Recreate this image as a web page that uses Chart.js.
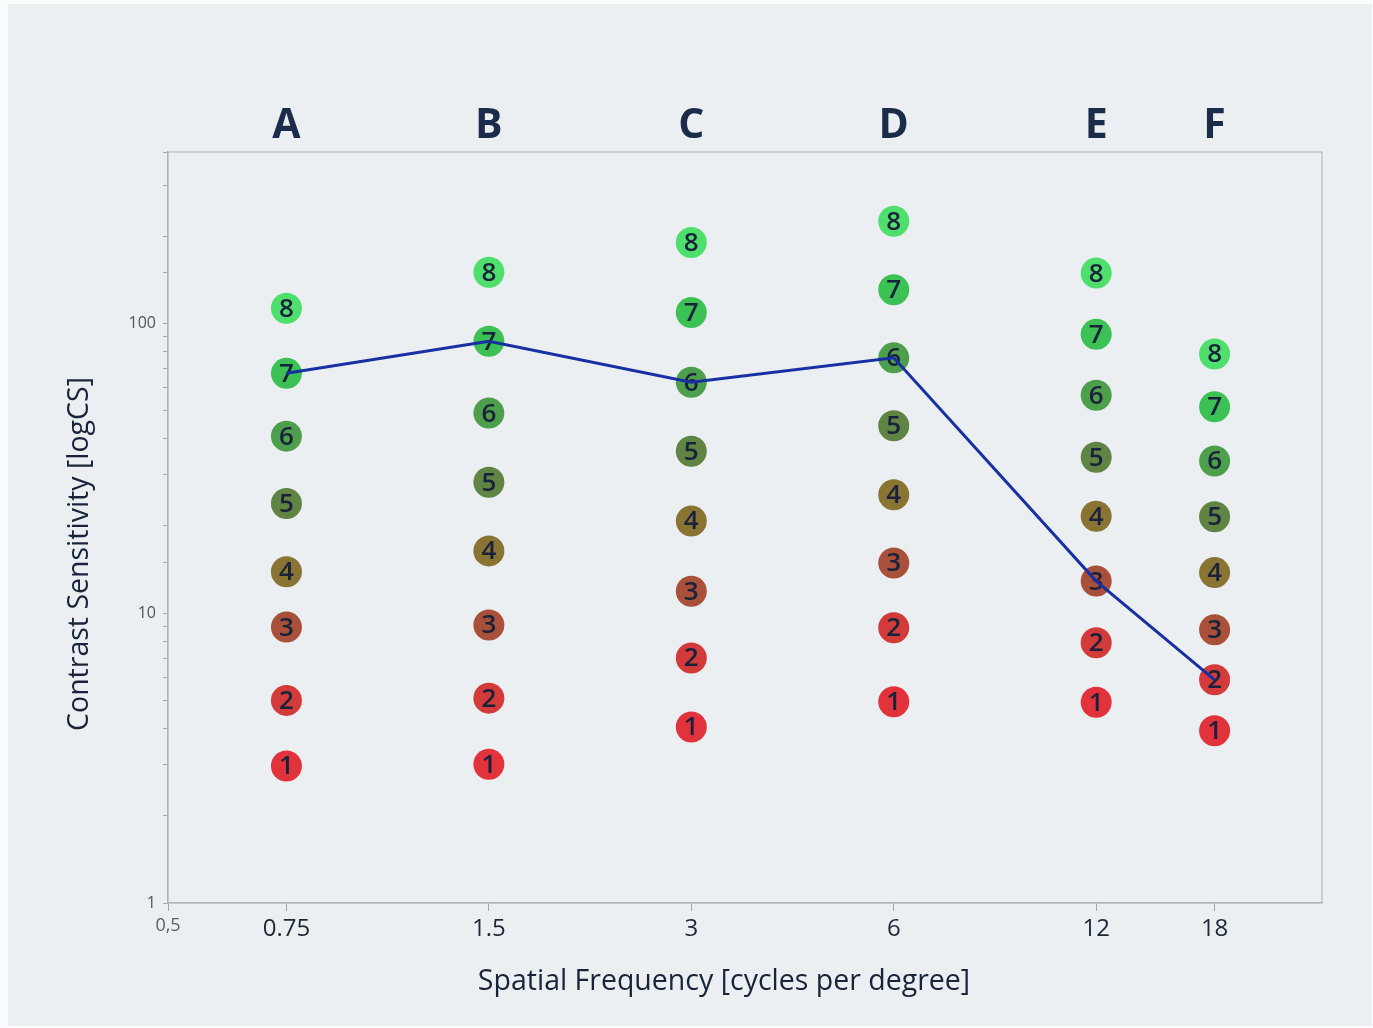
<!DOCTYPE html>
<html>
<head>
<meta charset="utf-8">
<script src="https://cdn.jsdelivr.net/npm/chart.js@4.4.1/dist/chart.umd.min.js"></script>
<style>
  html, body { margin: 0; padding: 0; }
  body { width: 1373px; height: 1028px; background: #fbfcfc; position: relative; overflow: hidden; }
  #photo { position: absolute; left: 8px; top: 4px; width: 1364px; height: 1022px; background: #eceff1; }
  #c { position: absolute; left: 0; top: 0; }
</style>
</head>
<body>
<div id="photo"></div>
<canvas id="c" width="1373" height="1028"></canvas>
<script>
// spatial frequencies (cycles per degree) and their letters on top
const freqs = [0.75, 1.5, 3, 6, 12, 18];
const letters = ['A', 'B', 'C', 'D', 'E', 'F'];
const xTickValues = [0.5, 0.75, 1.5, 3, 6, 12, 18];
const xTickLabels = ['0,5', '0.75', '1.5', '3', '6', '12', '18'];
const yTickLabels = { 1: '1', 10: '10', 100: '100' };
const xTitle = 'Spatial Frequency [cycles per degree]';
const yTitle = 'Contrast Sensitivity [logCS]';

// contrast sensitivity of the patches 1..8 in each column
const colA = [2.97, 5.0, 8.95, 13.9, 23.9, 40.8, 67.2, 112.7];
const colB = [3.01, 5.09, 9.1, 16.4, 28.3, 49, 86.7, 150];
const colC = [4.05, 7.0, 11.9, 20.8, 36.2, 62.6, 109, 190];
const colD = [4.95, 8.9, 14.9, 25.6, 44.3, 76, 130.5, 225];
const colE = [4.93, 7.9, 12.9, 21.6, 34.5, 56.5, 91.6, 149];
const colF = [3.93, 5.89, 8.77, 13.8, 21.5, 33.5, 51.5, 78.4];

// last patch seen in each column (blue line)
const thresholdLevel = [7, 7, 6, 6, 3, 2];

const levelColors = ['#e2333d', '#d23b39', '#a9503a', '#8a7434', '#5f8444', '#4e9f4c', '#3cc155', '#4fdf6c'];

const columns = [colA, colB, colC, colD, colE, colF];

const datasets = [];
datasets.push({
  label: 'threshold',
  data: freqs.map((f, j) => ({ x: f, y: columns[j][thresholdLevel[j] - 1] })),
  showLine: true,
  borderColor: '#1830a4',
  borderWidth: 3,
  pointRadius: 0,
  order: 0
});
for (let i = 0; i < 8; i++) {
  datasets.push({
    label: 'level ' + (i + 1),
    level: i + 1,
    data: freqs.map((f, j) => ({ x: f, y: columns[j][i] })),
    backgroundColor: levelColors[i],
    borderWidth: 0,
    pointRadius: 15.5,
    order: 1
  });
}

const frame = {
  id: 'frame',
  beforeDatasetsDraw(chart) {
    const { ctx, chartArea: a } = chart;
    ctx.save();
    ctx.strokeStyle = '#b7bbbe';
    ctx.lineWidth = 1.2;
    ctx.strokeRect(a.left, a.top, a.right - a.left, a.bottom - a.top);
    ctx.restore();
  }
};

const numbers = {
  id: 'numbers',
  afterDatasetDraw(chart, args) {
    const ds = chart.data.datasets[args.index];
    if (!ds.level) return;
    const ctx = chart.ctx;
    ctx.save();
    ctx.font = '600 26px "Open Sans"';
    ctx.fillStyle = '#19223a';
    ctx.textAlign = 'center';
    ctx.textBaseline = 'middle';
    args.meta.data.forEach(p => ctx.fillText(String(ds.level), p.x, p.y + 1));
    ctx.restore();
  }
};

// axis titles, placed as in the photo
const titles = {
  id: 'titles',
  afterDraw(chart) {
    const ctx = chart.ctx;
    ctx.save();
    ctx.fillStyle = '#17243a';
    ctx.font = '28.5px "Open Sans"';
    ctx.textAlign = 'center';
    ctx.textBaseline = 'middle';
    ctx.fillText(xTitle, 724, 982);
    ctx.translate(80, 554);
    ctx.rotate(-Math.PI / 2);
    ctx.fillText(yTitle, 0, 0);
    ctx.restore();
  }
};

Chart.defaults.font.family = '"Open Sans"';

new Chart(document.getElementById('c'), {
  type: 'scatter',
  data: { datasets },
  plugins: [frame, numbers, titles],
  options: {
    responsive: false,
    animation: false,
    layout: { padding: { left: 0, top: 0, right: 51, bottom: 0 } },
    plugins: { legend: { display: false }, tooltip: { enabled: false } },
    scales: {
      x: {
        type: 'logarithmic',
        position: 'bottom',
        min: 0.5,
        max: 26,
        afterBuildTicks: s => { s.ticks = xTickValues.map(v => ({ value: v })); },
        afterFit: s => { s.height = 125; },
        border: { color: '#a3a8ab', width: 1.2 },
        grid: { drawOnChartArea: false, tickLength: 8, color: '#a3a8ab' },
        ticks: {
          autoSkip: false,
          maxRotation: 0,
          padding: 4,
          callback: v => xTickLabels[xTickValues.indexOf(v)] ?? '',
          font: c => (c.tick && c.tick.value === 0.5) ? { size: 18 } : { size: 24 },
          color: c => (c.tick && c.tick.value === 0.5) ? '#5a5f63' : '#1c2738'
        }
      },
      x2: {
        type: 'logarithmic',
        axis: 'x',
        position: 'top',
        min: 0.5,
        max: 26,
        afterBuildTicks: s => { s.ticks = freqs.map(v => ({ value: v })); },
        afterFit: s => { s.height = 152; },
        border: { display: false },
        grid: { display: false, drawTicks: false },
        ticks: {
          autoSkip: false,
          maxRotation: 0,
          padding: 1,
          callback: v => letters[freqs.indexOf(v)] ?? '',
          font: { size: 41, weight: '700' },
          color: '#1a2c4a'
        }
      },
      y: {
        type: 'logarithmic',
        min: 1,
        max: 390,
        afterFit: s => { s.width = 168; },
        border: { color: '#a3a8ab', width: 1.2 },
        grid: { drawOnChartArea: false, tickLength: 5, color: '#a3a8ab' },
        ticks: {
          autoSkip: false,
          padding: 7,
          callback: v => yTickLabels[v] ?? '',
          font: { size: 16 },
          color: '#4f5458'
        }
      }
    }
  }
});
</script>
</body>
</html>
